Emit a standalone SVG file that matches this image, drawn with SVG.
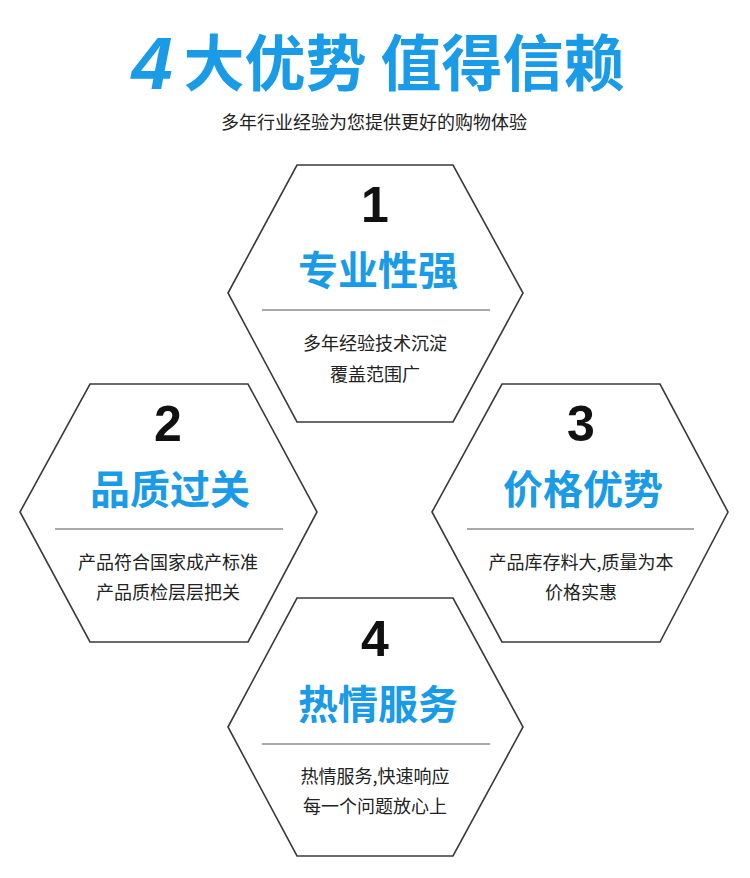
<svg xmlns="http://www.w3.org/2000/svg" width="750" height="878" viewBox="0 0 750 878">
<style>
.hex{fill:#fff;stroke:#3a3a3a;stroke-width:1.6}
.div{stroke:#555;stroke-width:1.2}
.num{font-family:"Liberation Sans",sans-serif;font-weight:bold;font-size:50px;fill:#111;text-anchor:middle}
.ttl{font-family:"Noto Sans CJK SC",sans-serif;font-weight:bold;font-size:40px;fill:#1a9be8;text-anchor:middle}
.txt{font-family:"Noto Sans CJK SC",sans-serif;font-size:18px;fill:#222;text-anchor:middle}
</style>
<rect width="750" height="878" fill="#fff"/>
<g id="header">
<text x="152" y="89" font-family="Liberation Sans,sans-serif" font-weight="bold" font-style="italic" font-size="74" fill="#1a9be8" text-anchor="middle">4</text>
<text x="404" y="86" font-family="Noto Sans CJK SC,sans-serif" font-weight="bold" font-size="61" fill="#1a9be8" text-anchor="middle">大优势 值得信赖</text>
<text x="374" y="129" class="txt" font-size="19.5">多年行业经验为您提供更好的购物体验</text>
</g>
<g id="hex1">
<polygon class="hex" points="228,293 297,165 453,165 523,293 453,422 297,422"/>
<text class="num" x="375" y="222">1</text>
<text class="ttl" x="378" y="285">专业性强</text>
<line class="div" x1="262" y1="310" x2="490" y2="310"/>
<text class="txt" x="375" y="350">多年经验技术沉淀</text>
<text class="txt" x="375" y="381">覆盖范围广</text>
</g>
<g id="hex2">
<polygon class="hex" points="20,512 90,384 248,384 317,512 248,642 90,642"/>
<text class="num" x="168" y="441">2</text>
<text class="ttl" x="170" y="504">品质过关</text>
<line class="div" x1="55" y1="529" x2="283" y2="529"/>
<text class="txt" x="168" y="569">产品符合国家成产标准</text>
<text class="txt" x="168" y="599">产品质检层层把关</text>
</g>
<g id="hex3">
<polygon class="hex" points="432,512 502,384 660,384 728,512 660,642 502,642"/>
<text class="num" x="581" y="441">3</text>
<text class="ttl" x="583" y="504">价格优势</text>
<line class="div" x1="467" y1="529" x2="694" y2="529"/>
<text class="txt" x="581" y="569">产品库存料大,质量为本</text>
<text class="txt" x="581" y="599">价格实惠</text>
</g>
<g id="hex4">
<polygon class="hex" points="228,727 297,598 453,598 523,727 453,856 297,856"/>
<text class="num" x="375" y="656">4</text>
<text class="ttl" x="378" y="719">热情服务</text>
<line class="div" x1="262" y1="744" x2="490" y2="744"/>
<text class="txt" x="375" y="783">热情服务,快速响应</text>
<text class="txt" x="375" y="813">每一个问题放心上</text>
</g>
<g id="connectors"/>
</svg>
